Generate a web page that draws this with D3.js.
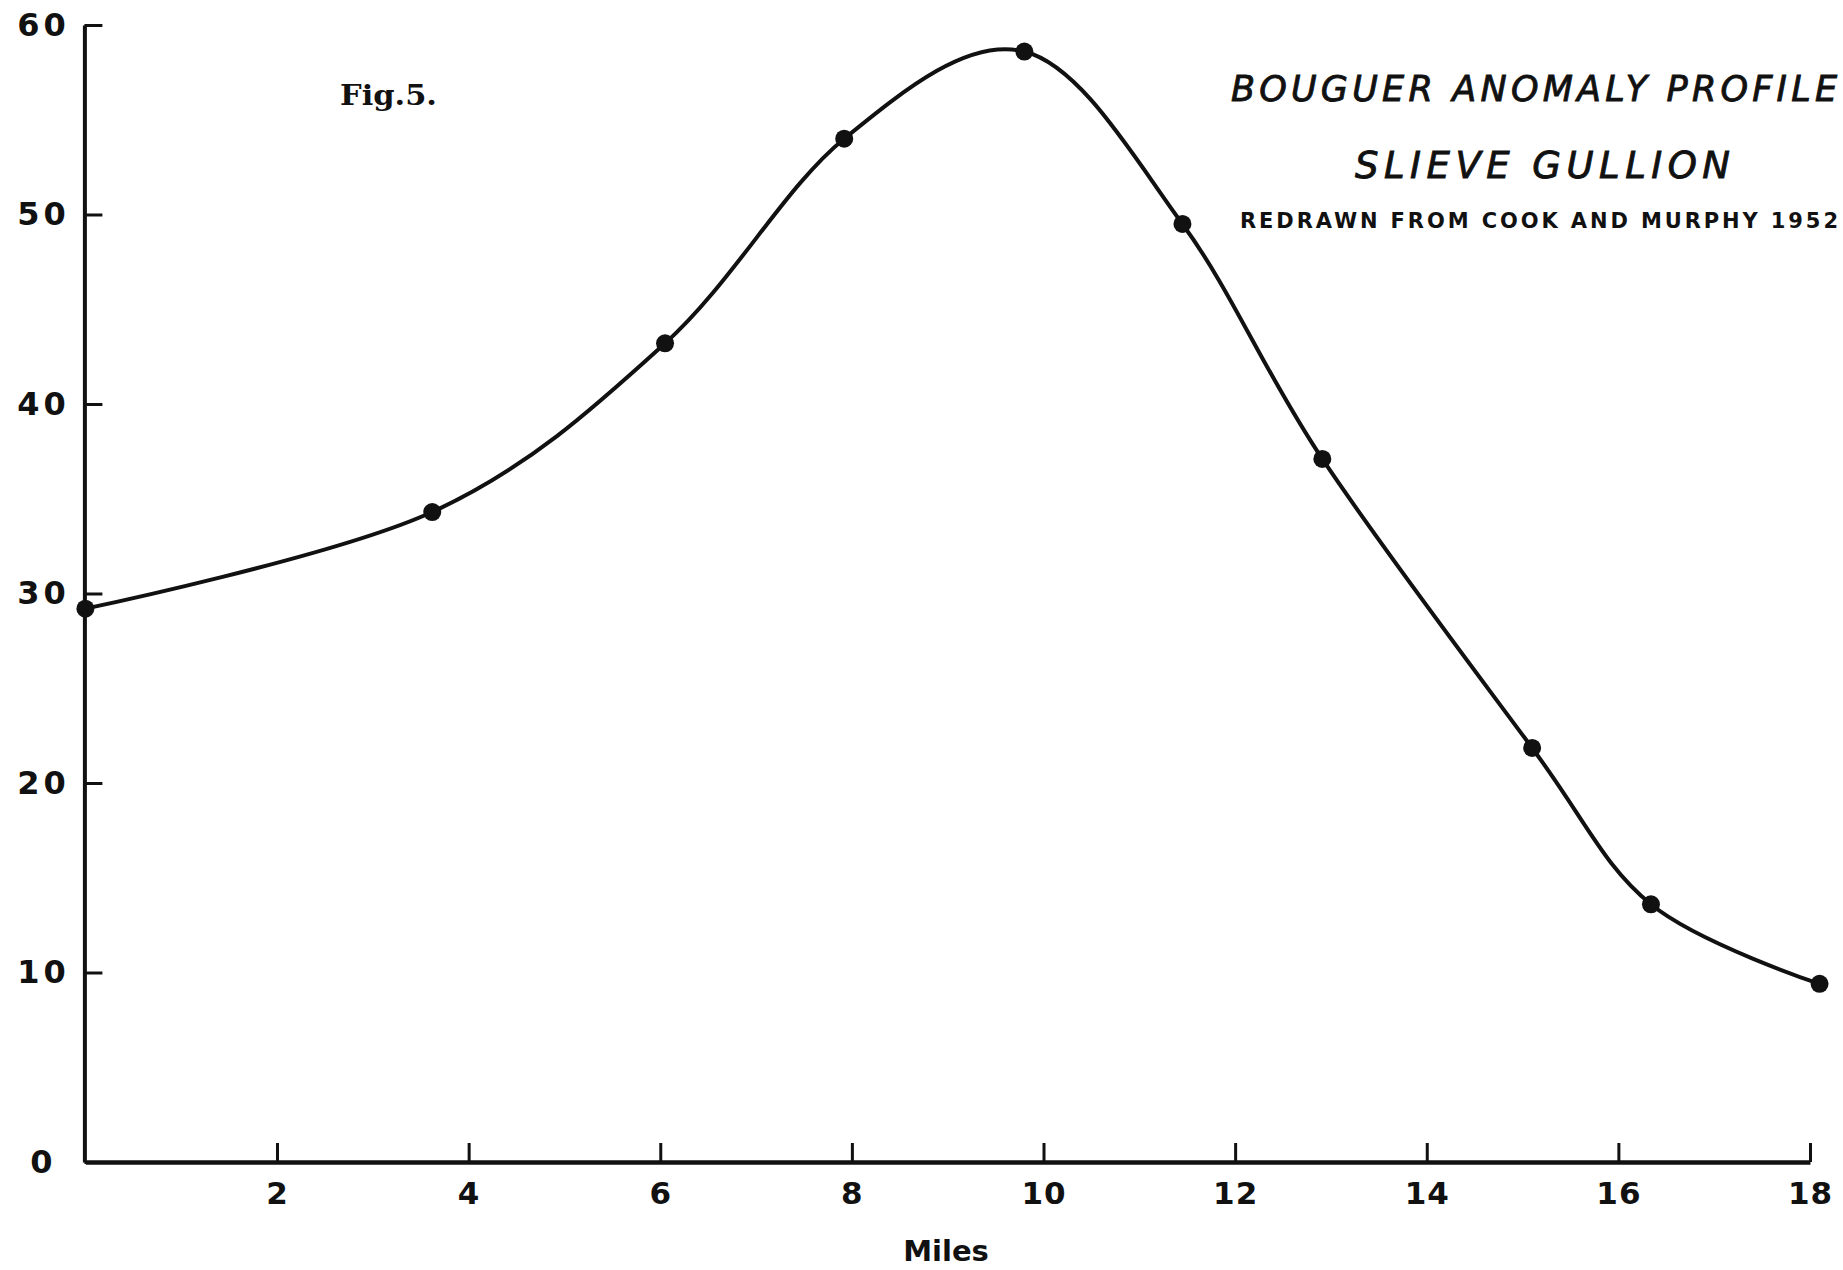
<!DOCTYPE html>
<html>
<head>
<meta charset="utf-8">
<script src="https://cdn.jsdelivr.net/npm/d3@7"></script>
<style>
  html, body { margin: 0; padding: 0; background: #ffffff; }
  svg { display: block; }
</style>
</head>
<body>
<svg id="chart" width="1843" height="1270"></svg>
<script>
// ---- data ----
const distanceMiles = [0, 3.62, 6.05, 7.92, 9.80, 11.45, 12.91, 15.10, 16.34, 18.10];
const anomalyValues = [29.2, 34.3, 43.2, 54.0, 58.6, 49.5, 37.1, 21.85, 13.6, 9.4];
const xTickValues = [2, 4, 6, 8, 10, 12, 14, 16, 18];
const yTickValues = [0, 10, 20, 30, 40, 50, 60];
const titleLines = ["BOUGUER  ANOMALY  PROFILE", "SLIEVE  GULLION", "REDRAWN  FROM  COOK  AND  MURPHY  1952"];
const figLabel = "Fig.5.";
const xAxisTitle = "Miles";

const points = distanceMiles.map((d, i) => ({ x: d, y: anomalyValues[i] }));

const svg = d3.select("#chart");
svg.append("rect").attr("width", 1843).attr("height", 1270).attr("fill", "#ffffff");

const x = d3.scaleLinear().domain([0, 18]).range([85.4, 1810]);
const y = d3.scaleLinear().domain([0, 60]).range([1162, 25]);

const ink = "#111111";
const tickFont = "'DejaVu Sans', sans-serif";

// x axis
const gx = svg.append("g").attr("transform", `translate(0,${y(0)})`)
  .call(d3.axisBottom(x).tickValues(xTickValues).tickSizeInner(-19).tickSizeOuter(0).tickPadding(20)
    .tickFormat(d3.format("d")));
gx.select(".domain").attr("stroke", ink).attr("stroke-width", 4.5);
gx.selectAll(".tick line").attr("stroke", ink).attr("stroke-width", 3);
gx.selectAll(".tick text").attr("fill", ink).attr("font-family", tickFont)
  .attr("font-weight", "bold").attr("font-size", 31).attr("letter-spacing", 1);

// y axis
const gy = svg.append("g").attr("transform", `translate(${x(0) - 1},0)`)
  .call(d3.axisLeft(y).tickValues(yTickValues).tickSizeInner(-18).tickSizeOuter(0).tickPadding(22)
    .tickFormat(d3.format("d")));
gy.select(".domain").attr("stroke", ink).attr("stroke-width", 4);
gy.selectAll(".tick line").attr("stroke", ink).attr("stroke-width", 3);
gy.selectAll(".tick text").attr("fill", ink).attr("font-family", tickFont)
  .attr("font-weight", "bold").attr("font-size", 32)
  .attr("text-anchor", "middle").attr("x", -41).attr("letter-spacing", 4);

// curve
const line = d3.line().x(d => x(d.x)).y(d => y(d.y)).curve(d3.curveCardinal.tension(0));
svg.append("path").datum(points).attr("d", line)
  .attr("fill", "none").attr("stroke", ink).attr("stroke-width", 4)
  .attr("stroke-linejoin", "round").attr("stroke-linecap", "round");

svg.append("g").selectAll("circle").data(points).join("circle")
  .attr("cx", d => x(d.x)).attr("cy", d => y(d.y)).attr("r", 9).attr("fill", ink);

// x axis title
svg.append("text").attr("x", 946).attr("y", 1261).attr("text-anchor", "middle")
  .attr("font-family", tickFont).attr("font-weight", "bold").attr("font-size", 29)
  .attr("fill", ink).text(xAxisTitle);

// Fig label
svg.append("text").attr("x", 340).attr("y", 105)
  .attr("font-family", "'DejaVu Serif', serif").attr("font-weight", "bold").attr("font-size", 27)
  .attr("textLength", 97).attr("lengthAdjust", "spacingAndGlyphs")
  .attr("fill", ink).text(figLabel);

// titles
const titleSpecs = [
  { x0: 1231, x1: 1837, baseline: 101, size: 35, style: "italic", weight: "normal", stroke: 0.9 },
  { x0: 1355, x1: 1730, baseline: 178, size: 37, style: "italic", weight: "normal", stroke: 0.9 },
  { x0: 1240, x1: 1838, baseline: 228, size: 21, style: "normal", weight: "bold", stroke: 0 }
];
titleLines.forEach((t, i) => {
  const s = titleSpecs[i];
  svg.append("text").attr("x", s.x0).attr("y", s.baseline)
    .attr("font-family", tickFont).attr("font-style", s.style).attr("font-weight", s.weight)
    .attr("font-size", s.size).attr("textLength", s.x1 - s.x0).attr("lengthAdjust", "spacing")
    .attr("fill", ink).attr("stroke", ink).attr("stroke-width", s.stroke).text(t);
});
</script>
</body>
</html>
